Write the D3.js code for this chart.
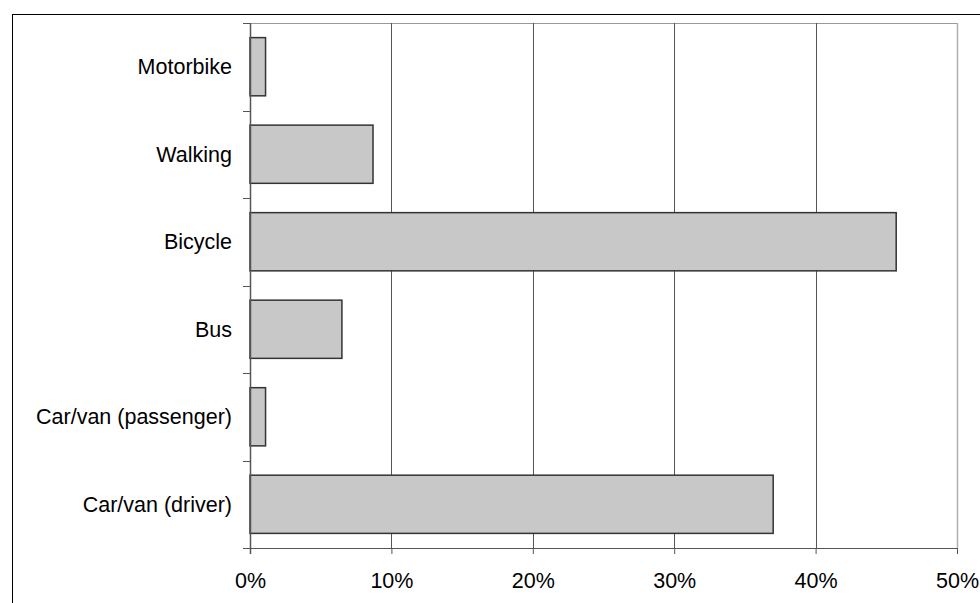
<!DOCTYPE html>
<html>
<head>
<meta charset="utf-8">
<script src="https://cdn.jsdelivr.net/npm/d3@7"></script>
<style>
  body { margin: 0; background: #fff; }
  svg { display: block; font-family: "Liberation Sans", Arial, sans-serif; }
</style>
</head>
<body>
<div id="display"></div>
<script>
// categories top to bottom and their shares (%)
var modes = ["Motorbike", "Walking", "Bicycle", "Bus", "Car/van (passenger)", "Car/van (driver)"];
var shares = [1.1, 8.7, 45.7, 6.5, 1.1, 37.0];
var xTicks = [0, 10, 20, 30, 40, 50];

var data = modes.map(function(m, i) { return {mode: m, value: shares[i]}; });

var W = 980, H = 603,
  margin = {top: 23, right: 23, bottom: 55, left: 250},
  width = W - margin.left - margin.right,
  height = H - margin.top - margin.bottom,
  fontSize = "21.5px";

var svg = d3.select("#display").append("svg")
    .attr("width", W)
    .attr("height", H);

// outer frame (runs off the page at right and bottom)
svg.append("rect")
    .attr("x", 12.5).attr("y", 14.5)
    .attr("width", 1000).attr("height", 1000)
    .attr("fill", "none")
    .attr("stroke", "#000");

var g = svg.append("g")
    .attr("transform", "translate(" + margin.left + "," + margin.top + ")");

var x = d3.scaleLinear().domain([0, 50]).range([0, width]);
var y = d3.scaleBand().domain(modes).range([0, height]).paddingInner(0.335).paddingOuter(0.167);

// plot border top / right
g.append("line")
    .attr("x1", 0).attr("x2", width).attr("y1", 0.5).attr("y2", 0.5)
    .attr("stroke", "#999");
g.append("line")
    .attr("x1", x(50) + 0.5).attr("x2", x(50) + 0.5).attr("y1", 0).attr("y2", height)
    .attr("stroke", "#b0b0b0").attr("stroke-width", 1.5);

// gridlines
g.selectAll(".grid")
    .data(xTicks.slice(1, -1))
    .enter().append("line")
      .attr("class", "grid")
      .attr("x1", function(d) { return Math.round(x(d)) + 0.5; })
      .attr("x2", function(d) { return Math.round(x(d)) + 0.5; })
      .attr("y1", 0).attr("y2", height)
      .attr("stroke", "#555");

// bars
g.selectAll(".bar")
    .data(data)
    .enter().append("rect")
      .attr("class", "bar")
      .attr("x", x(0))
      .attr("y", function(d) { return y(d.mode); })
      .attr("width", function(d) { return x(d.value); })
      .attr("height", y.bandwidth())
      .attr("fill", "#c8c8c8")
      .attr("stroke", "#333")
      .attr("stroke-width", 1.5);

// x axis
var xAxis = g.append("g")
    .attr("transform", "translate(0," + height + ")")
    .call(d3.axisBottom(x).tickValues(xTicks).tickFormat(function(d) { return d + "%"; }).tickSizeOuter(0).tickSize(6));
xAxis.select(".domain").attr("stroke", "#555").attr("d", "M-7,0.5H" + (width + 0.5));
xAxis.selectAll(".tick line").attr("stroke", "#555");
xAxis.selectAll(".tick text")
    .attr("y", 25)
    .attr("fill", "#000")
    .style("font-size", fontSize)
    .style("font-family", "Liberation Sans, Arial, sans-serif");

// y axis: ticks on category boundaries
var yAxis = g.append("g");
yAxis.append("line")
    .attr("x1", 0.5).attr("x2", 0.5).attr("y1", 0).attr("y2", height + 6)
    .attr("stroke", "#555").attr("stroke-width", 1.5);
var bounds = d3.range(modes.length + 1).map(function(i) { return i * height / modes.length; });
yAxis.selectAll(".ytick")
    .data(bounds)
    .enter().append("line")
      .attr("class", "ytick")
      .attr("x1", -7).attr("x2", 0)
      .attr("y1", function(d) { return Math.round(d) + 0.5; })
      .attr("y2", function(d) { return Math.round(d) + 0.5; })
      .attr("stroke", "#555");
yAxis.selectAll(".ylabel")
    .data(modes)
    .enter().append("text")
      .attr("class", "ylabel")
      .attr("x", -18)
      .attr("y", function(d) { return y(d) + y.bandwidth() / 2; })
      .attr("dy", "0.35em")
      .attr("text-anchor", "end")
      .style("font-size", fontSize)
      .text(function(d) { return d; });
</script>
</body>
</html>
